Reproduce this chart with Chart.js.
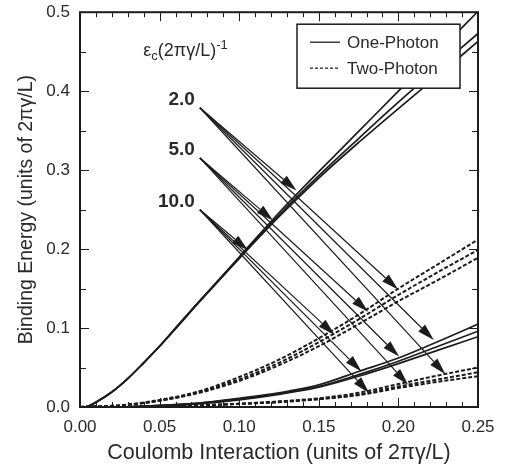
<!DOCTYPE html>
<html>
<head>
<meta charset="utf-8">
<script src="https://cdn.jsdelivr.net/npm/chart.js@4.4.1/dist/chart.umd.min.js"></script>
<style>
    body {
        margin: 0;
        background: #fff;
    }

    canvas {
        display: block;
    }
</style>
</head>
<body>
<canvas id="chart" width="507" height="469"></canvas>
<script>
// Coulomb interaction grid for the steep one-photon branch
const steepX = [0, 0.005, 0.01, 0.02, 0.03, 0.04, 0.05, 0.06, 0.075, 0.1, 0.125, 0.15, 0.175, 0.2, 0.225, 0.25]
const onePhotonSteep = [
    [0, 0.001, 0.006, 0.019, 0.036, 0.056, 0.077, 0.1, 0.134, 0.19, 0.246, 0.298, 0.349, 0.4, 0.45, 0.501],
    [0, 0.001, 0.006, 0.019, 0.036, 0.056, 0.077, 0.1, 0.134, 0.189, 0.243, 0.293, 0.34, 0.386, 0.43, 0.473],
    [0, 0.001, 0.006, 0.019, 0.036, 0.056, 0.077, 0.099, 0.133, 0.188, 0.241, 0.29, 0.335, 0.378, 0.42, 0.463]
]

// Coulomb interaction grid for the slow branches
const lowX = [0, 0.025, 0.05, 0.075, 0.1, 0.125, 0.15, 0.175, 0.2, 0.225, 0.25]
const onePhotonLow = [
    [0, 0, 0.002, 0.005, 0.011, 0.018, 0.028, 0.045, 0.062, 0.083, 0.105],
    [0, 0, 0.002, 0.005, 0.010, 0.017, 0.026, 0.041, 0.058, 0.077, 0.096],
    [0, 0, 0.001, 0.004, 0.009, 0.016, 0.025, 0.039, 0.055, 0.072, 0.089]
]
const twoPhotonHigh = [
    [0, 0.002, 0.009, 0.020, 0.038, 0.060, 0.087, 0.117, 0.150, 0.181, 0.212],
    [0, 0.002, 0.008, 0.019, 0.035, 0.056, 0.082, 0.111, 0.142, 0.171, 0.199],
    [0, 0.002, 0.008, 0.018, 0.033, 0.053, 0.077, 0.105, 0.134, 0.161, 0.189]
]
const twoPhotonLow = [
    [0, 0, 0.001, 0.002, 0.004, 0.007, 0.011, 0.018, 0.029, 0.040, 0.050],
    [0, 0, 0.001, 0.002, 0.004, 0.007, 0.010, 0.016, 0.026, 0.035, 0.044],
    [0, 0, 0.001, 0.002, 0.004, 0.006, 0.010, 0.015, 0.024, 0.032, 0.039]
]

// Cutoff labels, arrow tails and the curve points each arrow lands on
const cutoffLabels = ['2.0', '5.0', '10.0']
const arrowStarts = [[0.0753, 0.379], [0.0753, 0.3154], [0.0753, 0.2498]]
const arrowEnds = [
    [[0.136, 0.2742], [0.1998, 0.1489], [0.2222, 0.0849], [0.2295, 0.0416]],
    [[0.1213, 0.2363], [0.181, 0.1207], [0.2004, 0.0639], [0.2061, 0.0282]],
    [[0.1056, 0.1985], [0.16, 0.0913], [0.1768, 0.045], [0.1816, 0.0177]]
]
const legendLabels = ['One-Photon', 'Two-Photon']
const epsilonAnchor = [0.0397, 0.4445]

const ink = '#1c1c1c'
const textInk = '#2a2a2a'
const family = '"Liberation Sans", Arial, sans-serif'

function toPoints(xs, ys) {
    return xs.map((x, i) => ({ x, y: ys[i] }))
}

function curve(xs, ys, dashed) {
    return {
        data: toPoints(xs, ys),
        borderColor: ink,
        borderWidth: dashed ? 2 : 1.7,
        borderDash: dashed ? [4, 2] : [],
        pointRadius: 0,
        cubicInterpolationMode: 'monotone',
        fill: false
    }
}

const datasets = [
    ...onePhotonSteep.map((ys) => curve(steepX, ys, false)),
    ...onePhotonLow.map((ys) => curve(lowX, ys, false)),
    ...twoPhotonHigh.map((ys) => curve(lowX, ys, true)),
    ...twoPhotonLow.map((ys) => curve(lowX, ys, true))
]

function drawArrow(ctx, x0, y0, x1, y1) {
    const ang = Math.atan2(y1 - y0, x1 - x0)
    const len = 17
    const half = 4.8
    const bx = x1 - len * Math.cos(ang)
    const by = y1 - len * Math.sin(ang)

    ctx.beginPath()
    ctx.moveTo(x0, y0)
    ctx.lineTo(bx, by)
    ctx.stroke()

    ctx.beginPath()
    ctx.moveTo(x1, y1)
    ctx.lineTo(bx - half * Math.sin(ang), by + half * Math.cos(ang))
    ctx.lineTo(bx + half * Math.sin(ang), by - half * Math.cos(ang))
    ctx.closePath()
    ctx.fill()
}

const annotations = {
    id: 'annotations',
    afterDatasetsDraw(chart) {
        const { ctx, chartArea } = chart
        const xs = chart.scales.x
        const ys = chart.scales.y
        ctx.save()

        // arrows fanning out from each cutoff label
        ctx.strokeStyle = ink
        ctx.fillStyle = ink
        ctx.lineWidth = 1.2
        arrowStarts.forEach((start, i) => {
            const sx = xs.getPixelForValue(start[0])
            const sy = ys.getPixelForValue(start[1])
            arrowEnds[i].forEach((end) => {
                drawArrow(ctx, sx, sy, xs.getPixelForValue(end[0]), ys.getPixelForValue(end[1]))
            })

            ctx.font = 'bold 19px ' + family
            ctx.fillStyle = textInk
            ctx.textAlign = 'right'
            ctx.textBaseline = 'middle'
            ctx.fillText(cutoffLabels[i], sx - 5, sy - 8)
            ctx.fillStyle = ink
        })

        // epsilon_c (2 pi gamma / L)^-1 heading
        let ex = xs.getPixelForValue(epsilonAnchor[0])
        const ey = ys.getPixelForValue(epsilonAnchor[1])
        ctx.fillStyle = textInk
        ctx.textAlign = 'left'
        ctx.textBaseline = 'alphabetic'
        const parts = [
            ['ε', 18, 0],
            ['c', 13, 4],
            ['(2πγ/L)', 18, 0],
            ['-1', 13, -7]
        ]
        parts.forEach(([text, size, dy]) => {
            ctx.font = size + 'px ' + family
            ctx.fillText(text, ex, ey + dy)
            ex += ctx.measureText(text).width
        })

        // legend box
        const right = chartArea.right - 18
        const top = chartArea.top + 12
        const w = 163
        const h = 64
        const left = right - w
        ctx.fillStyle = '#fff'
        ctx.fillRect(left, top, w, h)
        ctx.lineWidth = 1.5
        ctx.strokeStyle = ink
        ctx.strokeRect(left, top, w, h)

        legendLabels.forEach((label, i) => {
            const rowY = top + 18 + i * 26
            ctx.beginPath()
            ctx.setLineDash(i === 0 ? [] : [3, 2])
            ctx.lineWidth = 1.3
            ctx.moveTo(left + 13, rowY)
            ctx.lineTo(left + 43, rowY)
            ctx.stroke()
            ctx.setLineDash([])
            ctx.font = '17px ' + family
            ctx.fillStyle = textInk
            ctx.textBaseline = 'middle'
            ctx.fillText(label, left + 50, rowY + 1)
        })
        ctx.restore()
    }
}

// Frame with inward ticks on all four sides
const frame = {
    id: 'frame',
    afterDraw(chart) {
        const { ctx, chartArea } = chart
        const { left, right, top, bottom } = chartArea
        const xs = chart.scales.x
        const ys = chart.scales.y
        ctx.save()
        ctx.strokeStyle = ink
        ctx.lineWidth = 1

        ctx.beginPath()
        for (let i = 0; i <= 25; i++) {
            const px = Math.round(xs.getPixelForValue(i * 0.01)) + 0.5
            const len = i % 5 === 0 ? 9 : 5
            ctx.moveTo(px, bottom)
            ctx.lineTo(px, bottom - len)
            ctx.moveTo(px, top)
            ctx.lineTo(px, top + len)
        }
        for (let i = 0; i <= 10; i++) {
            const py = Math.round(ys.getPixelForValue(i * 0.05)) + 0.5
            const len = i % 2 === 0 ? 9 : 6
            ctx.moveTo(left, py)
            ctx.lineTo(left + len, py)
            ctx.moveTo(right, py)
            ctx.lineTo(right - len, py)
        }
        ctx.stroke()

        ctx.lineWidth = 2
        ctx.strokeRect(left, top, right - left, bottom - top)
        ctx.restore()
    }
}

new Chart(document.getElementById('chart'), {
    type: 'line',
    data: { datasets },
    options: {
        responsive: false,
        animation: false,
        devicePixelRatio: 1,
        layout: { padding: { left: 0, top: 11, right: 29, bottom: 0 } },
        plugins: {
            legend: { display: false },
            tooltip: { enabled: false }
        },
        scales: {
            x: {
                type: 'linear',
                min: 0,
                max: 0.25,
                grid: { display: false },
                border: { display: false },
                ticks: {
                    stepSize: 0.05,
                    padding: 2,
                    color: textInk,
                    font: { family, size: 17 },
                    callback: (v) => v.toFixed(2)
                },
                title: {
                    display: true,
                    text: 'Coulomb Interaction (units of 2πγ/L)',
                    color: textInk,
                    font: { family, size: 21.5 },
                    padding: { top: 4, bottom: 3 }
                },
                afterFit(scale) {
                    scale.height = 62
                }
            },
            y: {
                type: 'linear',
                min: 0,
                max: 0.5,
                grid: { display: false },
                border: { display: false },
                ticks: {
                    stepSize: 0.1,
                    padding: 2,
                    color: textInk,
                    font: { family, size: 17 },
                    callback: (v) => v.toFixed(1)
                },
                title: {
                    display: true,
                    text: 'Binding Energy (units of 2πγ/L)',
                    color: textInk,
                    font: { family, size: 19.5 },
                    padding: { top: 15, bottom: 15 }
                },
                afterFit(scale) {
                    scale.width = 80
                }
            }
        }
    },
    plugins: [annotations, frame]
})
</script>
</body>
</html>
